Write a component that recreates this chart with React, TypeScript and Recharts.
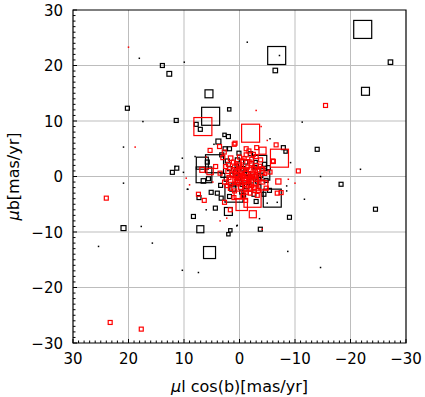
import {
  ScatterChart,
  Scatter,
  XAxis,
  YAxis,
  ZAxis,
  CartesianGrid,
  ReferenceArea,
} from 'recharts';

// [mu_l cos(b), mu_b, weight]
const blackStars: [number, number, number][] = [
  [13.9, 20.0, 7], [12.65, 18.5, 10], [18.05, 21.3, 1], [9.95, 20.6, 1],
  [20.2, 12.3, 7], [11.4, 10.1, 7], [17.4, 9.9, 1], [5.2, 10.85, 144],
  [5.5, 14.9, 28], [7.8, 9.4, 7], [7.06, 8.5, 7], [20.9, 5.3, 1],
  [10.3, 3.3, 1], [11.3, 1.5, 7], [12.1, 0.75, 7], [10.1, 0.75, 1],
  [20.9, -1.2, 1], [9.4, -2.3, 1], [-22.2, 26.5, 144], [-6.7, 21.8, 144],
  [-7.2, 21.8, 1], [-1.4, 24.2, 1], [-6.45, 19.1, 9], [-27.2, 20.6, 9],
  [-22.7, 15.35, 28], [1.85, 12.1, 5], [-11.3, 9.8, 1], [-14.0, 4.9, 7],
  [-14.6, 0.0, 1], [-21.8, 1.3, 1], [-18.3, -1.4, 7], [-11.7, -4.1, 1],
  [-7.9, 5.2, 7], [-8.3, 4.5, 5], [2.0, 7.2, 7], [3.8, 6.3, 11],
  [-5.9, -3.9, 144], [20.9, -9.3, 11], [17.7, -9.0, 1], [25.4, -12.6, 1],
  [15.7, -12.0, 1], [8.3, -7.2, 7], [7.06, -9.5, 22], [5.4, -13.7, 64],
  [10.3, -16.9, 1], [7.4, -17.3, 1], [-24.5, -5.9, 7], [-9.0, -7.35, 7],
  [-3.75, -9.5, 7], [1.65, -9.7, 5], [2.0, -10.4, 5], [0.4, -8.8, 1],
  [-8.7, -13.5, 1], [-14.6, -16.4, 1], [2.0, -6.3, 28], [4.35, -5.7, 7],
  [7.3, -3.8, 7], [5.1, -2.85, 7], [3.3, -3.9, 7], [-5.4, -2.5, 7],
  [6.7, 2.4, 64], [4.5, 2.3, 144], [6.4, 0.3, 110], [1.0, -3.0, 144],
  [-3.7, 2.6, 80], [-4.6, 0.2, 40], [6.5, -0.8, 9], [1.8, 5.0, 7],
  [11.6, 1.8, 1], [2.7, 7.5, 5],
  [0.2, -0.2, 11], [-1.6, 0.5, 7], [-0.6, 1.4, 9], [1.0, -1.5, 7],
  [-2.2, -0.8, 7], [0.7, 0.8, 7], [-1.3, -1.8, 9], [1.8, 1.4, 7],
  [-2.8, 1.6, 7], [-0.4, -2.8, 7], [2.4, -0.5, 7], [-3.5, -1.8, 7],
  [-1.1, 2.6, 7], [0.4, 3.0, 7], [-2.6, -3.2, 7], [3.0, 0.2, 7],
  [-3.8, 0.2, 9], [1.2, -2.1, 16], [-0.9, -0.4, 20], [2.2, 2.8, 7],
  [-4.5, 2.2, 7], [3.4, -1.6, 7], [-4.8, -0.7, 7], [0.1, 4.2, 7],
  [-2.0, 4.1, 7], [3.2, 3.9, 7], [4.0, -3.0, 7], [-5.2, 1.6, 7],
  [1.8, -3.6, 7], [-3.0, -4.5, 7], [5.6, -0.4, 7], [5.8, 2.6, 7],
  [-4.4, -3.2, 7], [2.6, 5.0, 7],
  [-0.2, 0.2, 5], [-1.0, 1.0, 5], [-2.4, 0.1, 5], [-1.6, -1.2, 5],
  [0.5, 1.9, 5], [-0.5, -1.5, 5], [-3.2, -0.9, 5], [1.4, 0.3, 5],
  [-2.9, 2.6, 5], [-0.8, -3.4, 5],
  [-8.5, -1.7, 1], [-8.5, -2.6, 1], [-6.8, -4.65, 1], [-5.0, -4.8, 1],
  [9.3, -2.3, 1], [0.5, -8.9, 1], [6.0, -6.0, 1], [-9.2, 2.5, 1],
  [4.6, 5.8, 1], [-5.5, 6.8, 1], [8.0, 3.6, 1], [-3.6, -7.6, 1],
];

const redStars: [number, number, number][] = [
  [6.6, 9.0, 144], [-2.0, 7.8, 144], [-7.2, 3.3, 144], [-4.15, 4.65, 22],
  [-0.4, -5.1, 58], [-2.35, -4.0, 130], [-2.4, -6.8, 22], [-7.0, -0.9, 12],
  [-15.5, 12.8, 7], [-3.0, 11.9, 1], [20.0, 23.3, 1], [18.8, 5.3, 1],
  [9.6, -0.3, 1], [24.0, -3.9, 7], [23.3, -26.3, 7], [17.7, -27.5, 7],
  [-6.1, 2.7, 7], [5.3, 4.7, 7], [0.95, 5.8, 7], [3.6, 5.4, 7],
  [-6.6, 5.7, 7], [-6.8, -3.0, 7], [-7.5, -2.9, 7], [-10.6, 1.0, 7],
  [-3.1, 5.2, 7], [-1.2, 5.0, 7], [-1.7, 4.6, 7], [0.8, 6.0, 7],
  [-6.0, 2.8, 7], [7.4, -3.2, 7], [6.35, -4.3, 7], [2.7, -4.65, 7],
  [1.65, -6.0, 7], [2.3, -7.5, 1], [-10.0, -1.2, 1], [-4.1, -9.5, 1],
  [3.0, 3.4, 7], [2.75, 4.4, 7], [4.3, 1.8, 7], [5.3, 0.9, 18],
  [6.7, 1.2, 11], [9.0, -1.5, 1], [4.8, -1.0, 1], [6.0, 3.5, 1],
  [-5.0, 6.5, 1], [-8.8, -0.5, 1], [3.5, -8.0, 1], [-3.9, 9.0, 1],
  [-0.5, 0.2, 7], [-1.2, 0.8, 9], [0.3, 1.1, 7], [-1.8, -0.4, 11],
  [-0.9, -1.1, 7], [0.8, -0.6, 9], [-2.4, 0.6, 7], [-1.5, 1.7, 7],
  [0.1, 2.0, 9], [-2.9, -1.2, 7], [-0.2, -1.9, 9], [1.3, 0.4, 7],
  [-3.3, 0.9, 11], [-2.1, 2.3, 7], [0.9, 1.7, 7], [-1.0, -2.4, 7],
  [-2.6, -2.0, 9], [1.6, -1.4, 7], [-0.6, 2.8, 7], [-3.6, -0.3, 7],
  [2.1, 0.9, 7], [-1.4, -0.2, 16], [-0.3, 0.9, 16], [0.5, -1.0, 11],
  [-2.0, 1.2, 11], [-1.1, 0.3, 20], [-0.8, -0.6, 14], [-2.7, 0.0, 9],
  [0.6, 0.1, 9], [-1.7, -1.5, 9], [-0.1, -0.3, 7], [1.9, -0.2, 7],
  [-3.0, 2.0, 7], [2.5, 1.8, 7], [-4.0, 1.4, 7], [1.1, 2.6, 7],
  [-2.2, 3.1, 7], [0.0, 3.5, 7], [-4.2, -1.0, 7], [2.7, -1.0, 7],
  [-3.4, -2.5, 7], [0.9, -2.6, 7], [-1.9, -3.0, 7], [-1.2, 3.9, 7],
  [1.6, 3.3, 9], [-3.8, 3.0, 7], [-4.3, -1.6, 36], [-3.9, 1.0, 25],
  [1.4, -0.8, 25], [-1.0, 2.3, 30], [0.3, -3.3, 25], [-2.5, -1.0, 40],
  [-0.7, -0.1, 5], [-1.9, 0.1, 5], [-0.2, 0.5, 5], [-1.3, 1.2, 5],
  [-2.3, -0.3, 5], [0.4, -0.3, 5], [-1.0, -1.5, 5], [-2.9, 0.4, 5],
  [-0.4, 1.8, 5], [-1.6, -0.9, 5], [0.9, 0.6, 5], [-2.5, 1.5, 5],
  [-3.1, -0.6, 5], [0.2, -1.4, 5], [-1.3, -2.9, 5], [-0.6, -3.6, 7],
  [-2.2, -1.7, 5], [1.2, 1.3, 5], [-3.7, 1.9, 5], [-1.8, 2.7, 5],
  [0.6, 2.4, 5], [-2.7, -2.6, 5], [-0.9, 3.3, 5], [1.7, -2.2, 5],
  [-3.2, -3.4, 7], [-4.6, 0.5, 5], [2.3, -1.7, 5], [-1.5, 0.0, 7],
  [-0.3, -0.8, 7], [-2.0, -2.3, 7], [0.0, 1.5, 7], [-3.5, 1.2, 7],
  [1.0, -3.8, 7], [-2.5, 4.0, 7], [-4.8, -2.1, 7], [3.5, 0.6, 7],
  [-1.1, -4.3, 7], [2.0, 2.2, 7], [-5.5, 0.8, 7], [-3.0, 3.6, 7],
];

const GRID = [-20, -10, 0, 10, 20];
const MAJOR_STEP = 10;
const TICKS = Array.from({ length: 61 }, (_, i) => i - 30);

const FONT = 'DejaVu Sans';

const toRows = (pts: [number, number, number][]) =>
  pts.map(([x, y, m]) => ({ x, y, m }));

const fmt = (v: number) => (v < 0 ? `\u2212${Math.abs(v)}` : `${v}`);

const squareShape = (color: string) => (props: any) => {
  const { cx, cy, width } = props;
  if (cx == null || cy == null) return <g />;
  if (width < 2.5) {
    return <rect x={cx - width / 2} y={cy - width / 2} width={width} height={width} fill={color} />;
  }
  return (
    <rect
      x={cx - width / 2}
      y={cy - width / 2}
      width={width}
      height={width}
      fill="none"
      stroke={color}
      strokeWidth={1.2}
    />
  );
};

const XTick = (props: any) => {
  const { x, y, payload } = props;
  const v = payload.value;
  const major = v % MAJOR_STEP === 0;
  return (
    <g>
      <line x1={x} x2={x} y1={y} y2={y - (major ? 4 : 2.5)} stroke="#000" strokeWidth={1} />
      {major && (
        <text x={x} y={y + 21} textAnchor="middle" fontSize={15} fontFamily={FONT} fill="#000">
          {fmt(v)}
        </text>
      )}
    </g>
  );
};

const YTick = (props: any) => {
  const { x, y, payload } = props;
  const v = payload.value;
  const major = v % MAJOR_STEP === 0;
  return (
    <g>
      <line x1={x} x2={x + (major ? 4 : 2.5)} y1={y} y2={y} stroke="#000" strokeWidth={1} />
      {major && (
        <text x={x - 10} y={y + 5.5} textAnchor="end" fontSize={15} fontFamily={FONT} fill="#000">
          {fmt(v)}
        </text>
      )}
    </g>
  );
};

const XLabel = (props: any) => {
  const vb = props.viewBox;
  return (
    <text x={vb.x + vb.width / 2} y={vb.y + 49} textAnchor="middle" fontSize={16} fontFamily={FONT} fill="#000">
      <tspan fontStyle="italic">μ</tspan>l cos(b)[mas/yr]
    </text>
  );
};

const YLabel = (props: any) => {
  const vb = props.viewBox;
  const cx = vb.x + 19;
  const cy = vb.y + vb.height / 2;
  return (
    <text
      x={cx}
      y={cy}
      transform={`rotate(-90, ${cx}, ${cy})`}
      textAnchor="middle"
      fontSize={16}
      fontFamily={FONT}
      fill="#000"
    >
      <tspan fontStyle="italic">μ</tspan>b[mas/yr]
    </text>
  );
};

export default function App() {
  return (
    <div style={{ position: 'fixed', left: 0, top: 0, background: '#fff' }}>
      <ScatterChart width={425} height={397} margin={{ top: 10, right: 19, bottom: 0, left: 0 }}>
        <CartesianGrid verticalValues={GRID} horizontalValues={GRID} stroke="#bdbdbd" strokeWidth={1} />
        <XAxis
          type="number"
          dataKey="x"
          domain={[-30, 30]}
          reversed
          ticks={TICKS}
          interval={0}
          height={54}
          tickSize={0}
          tickMargin={0}
          axisLine={false}
          tickLine={false}
          tick={<XTick />}
          label={<XLabel />}
          allowDataOverflow
        />
        <YAxis
          type="number"
          dataKey="y"
          domain={[-30, 30]}
          ticks={TICKS}
          interval={0}
          width={73}
          tickSize={0}
          tickMargin={0}
          axisLine={false}
          tickLine={false}
          tick={<YTick />}
          label={<YLabel />}
          allowDataOverflow
        />
        <ZAxis type="number" dataKey="m" domain={[0, 144]} range={[0, 254.47]} />
        <Scatter data={toRows(blackStars)} shape={squareShape('#000')} isAnimationActive={false} />
        <Scatter data={toRows(redStars)} shape={squareShape('#ff0000')} isAnimationActive={false} />
        <ReferenceArea x1={30} x2={-30} y1={-30} y2={30} fill="none" stroke="#000" strokeWidth={1.2} />
      </ScatterChart>
    </div>
  );
}
